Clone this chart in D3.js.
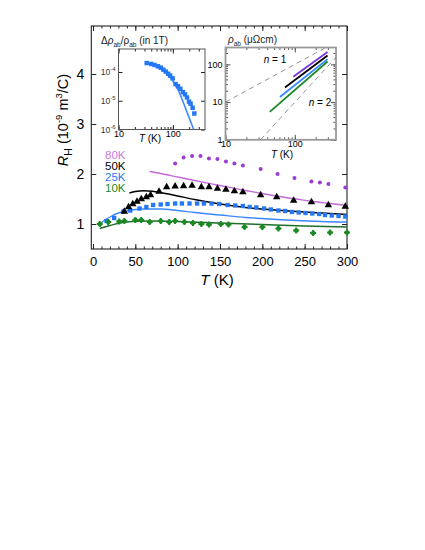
<!DOCTYPE html>
<html>
<head>
<meta charset="utf-8">
<script src="https://cdn.jsdelivr.net/npm/d3@7"></script>
<style>
  body { margin: 0; background: #fff; }
  text { font-family: "Liberation Sans", Arial, sans-serif; }
</style>
</head>
<body>
<div id="plot"></div>
<script>
// Main panel: Hall coefficient vs temperature
const xTicks = [0, 50, 100, 150, 200, 250, 300];
const yTicks = [1, 2, 3, 4];

const tPurple = [97, 107, 117, 127, 137, 147, 157, 167, 177, 198, 218, 238, 258, 268, 278, 298];
const rhPurple = [2.21, 2.33, 2.36, 2.36, 2.31, 2.30, 2.25, 2.21, 2.17, 2.10, 2.00, 1.92, 1.85, 1.83, 1.80, 1.73];

const tBlack = [37, 42, 47, 52, 57, 63, 68, 78, 87, 97, 107, 117, 128, 137, 147, 157, 167, 177, 198, 217, 237, 258, 278, 298];
const rhBlack = [1.25, 1.34, 1.40, 1.45, 1.50, 1.54, 1.58, 1.65, 1.74, 1.755, 1.76, 1.77, 1.74, 1.74, 1.71, 1.69, 1.66, 1.64, 1.58, 1.54, 1.47, 1.44, 1.38, 1.35];

const tBlue = [16, 25, 36, 44, 55, 63, 71, 80, 88, 97, 105, 114, 123, 131, 140, 149, 159, 168, 177, 185, 193, 202, 210, 219, 227, 235, 243, 251, 259, 267, 274, 282, 290, 298];
const rhBlue = [1.06, 1.12, 1.25, 1.27, 1.31, 1.34, 1.38, 1.39, 1.40, 1.41, 1.41, 1.41, 1.41, 1.41, 1.41, 1.40, 1.38, 1.37, 1.36, 1.34, 1.33, 1.31, 1.29, 1.27, 1.26, 1.24, 1.23, 1.22, 1.21, 1.20, 1.18, 1.17, 1.16, 1.15];

const tGreen = [8, 18, 31, 37, 50, 57, 67, 80, 90, 97, 108, 118, 128, 137, 151, 160, 179, 200, 219, 240, 260, 280, 300];
const rhGreen = [1.0, 1.04, 1.05, 1.06, 1.08, 1.08, 1.04, 1.06, 1.04, 1.06, 1.04, 1.02, 1.0, 0.99, 1.0, 0.99, 0.94, 0.94, 0.91, 0.87, 0.82, 0.83, 0.83];

// model curves
const tFitPurple = [67, 80, 100, 120, 150, 180, 200, 220, 240, 260, 280, 300];
const rhFitPurple = [2.05, 2.01, 1.94, 1.87, 1.77, 1.67, 1.61, 1.55, 1.50, 1.45, 1.41, 1.37];
const tFitBlack = [43, 50, 60, 70, 80, 100, 120, 150, 180, 200, 240, 270, 300];
const rhFitBlack = [1.62, 1.65, 1.665, 1.655, 1.63, 1.56, 1.49, 1.40, 1.33, 1.30, 1.25, 1.22, 1.19];
const tFitBlue = [8, 15, 20, 30, 40, 50, 60, 80, 100, 120, 150, 180, 200, 240, 270, 300];
const rhFitBlue = [1.0, 1.09, 1.14, 1.22, 1.26, 1.29, 1.30, 1.30, 1.27, 1.23, 1.18, 1.13, 1.11, 1.07, 1.05, 1.04];
const tFitGreen = [8, 20, 35, 50, 70, 100, 150, 200, 250, 300];
const rhFitGreen = [0.91, 0.97, 1.03, 1.055, 1.06, 1.05, 1.02, 0.99, 0.96, 0.94];

const legendLabels = ["80K", "50K", "25K", "10K"];

// Inset 1: magnetoresistance
const tMR = [33, 40, 46, 53, 60, 67, 74, 82, 89, 99, 112, 124, 137, 153, 167, 182, 198, 212, 231, 248];
const mrData = [2.05e-4, 1.9e-4, 1.75e-4, 1.58e-4, 1.42e-4, 1.2e-4, 1.03e-4, 8.7e-5, 7.5e-5, 6.0e-5, 3.8e-5, 3.2e-5, 2.6e-5, 2.0e-5, 1.66e-5, 1.3e-5, 9.3e-6, 7.9e-6, 5.7e-6, 3.6e-6];
const tMRFit = [31, 45, 55, 73, 97, 129, 171, 212, 241];
const mrFit = [2.0e-4, 1.65e-4, 1.38e-4, 9.8e-5, 5.4e-5, 2.1e-5, 5.5e-6, 1.9e-6, 1.0e-6];
const mrYTicks = [1e-4, 1e-5, 1e-6];
const mrYLabels = ["-4", "-5", "-6"];

// Inset 2: resistivity, straight power laws (start, end)
const tRho = [[95, 297], [72, 297], [61, 297], [43.5, 297]];
const rhoVals = [[47, 213], [24.5, 172], [13.7, 138], [5.5, 119]];
const nOneLine = [[10, 10], [280, 280]];
const nTwoLine = [[32, 1], [393, 154]];
const rhoYTicks = [1, 10, 100];
const logXTicks = [10, 100];

const colors = {purple: "#9a3bd6", purpleFit: "#c46ad8", purpleLeg: "#c77ae0",
  black: "#000", blue: "#2478f5", blueFit: "#3a88ff", green: "#1b8a24", greenFit: "#1f6e2a",
  rhoPurple: "#7a35e0", rhoBlue: "#3388ff"};

const width = 425;
const height = 550;
const frame = {left: 91.3, right: 347, top: 26, bottom: 249};
const font = "'Liberation Sans', Arial, sans-serif";

const svg = d3.select("#plot")
  .append("svg")
  .attr("width", width)
  .attr("height", height);

const x = d3.scaleLinear().domain([-2, 300]).range([frame.left, frame.right]);
const y = d3.scaleLinear().domain([0.5, 4.96]).range([frame.bottom, frame.top]);

function styleAxis(g, size) {
  g.select(".domain").remove();
  g.attr("font-family", font).attr("font-size", size);
  g.selectAll("line").attr("stroke", "#222");
}

// bottom axis, major and minor ticks pointing inward
svg.append("g")
  .attr("transform", `translate(0,${frame.bottom})`)
  .call(d3.axisBottom(x).tickValues(xTicks).tickSize(-5).tickPadding(8))
  .call(g => styleAxis(g, 13));
svg.append("g")
  .attr("transform", `translate(0,${frame.bottom})`)
  .call(d3.axisBottom(x).tickValues(d3.range(0, 301, 10)).tickSize(-2.5).tickFormat(""))
  .call(g => styleAxis(g, 13));
svg.append("g")
  .attr("transform", `translate(0,${frame.top})`)
  .call(d3.axisTop(x).tickValues(xTicks).tickSize(-5).tickFormat(""))
  .call(g => styleAxis(g, 13));
svg.append("g")
  .attr("transform", `translate(0,${frame.top})`)
  .call(d3.axisTop(x).tickValues(d3.range(0, 301, 10)).tickSize(-2.5).tickFormat(""))
  .call(g => styleAxis(g, 13));
svg.append("g")
  .attr("transform", `translate(${frame.left},0)`)
  .call(d3.axisLeft(y).tickValues(yTicks).tickSize(-5).tickPadding(7).tickFormat(d3.format("d")))
  .call(g => styleAxis(g, 14));
svg.append("g")
  .attr("transform", `translate(${frame.right},0)`)
  .call(d3.axisRight(y).tickValues(yTicks).tickSize(-5).tickFormat(""))
  .call(g => styleAxis(g, 13));

svg.append("rect")
  .attr("x", frame.left).attr("y", frame.top)
  .attr("width", frame.right - frame.left).attr("height", frame.bottom - frame.top)
  .attr("fill", "none").attr("stroke", "#222").attr("stroke-width", 1.1);

// axis titles
svg.append("text")
  .attr("x", 217).attr("y", 285)
  .attr("text-anchor", "middle").attr("font-size", 15)
  .html('<tspan font-style="italic">T</tspan> (K)');

const yTitle = svg.append("text")
  .attr("transform", "translate(68,120) rotate(-90)")
  .attr("text-anchor", "middle").attr("font-size", 14.5);
yTitle.append("tspan").attr("font-style", "italic").text("R");
yTitle.append("tspan").attr("font-size", 10.5).attr("dy", 4).text("H");
yTitle.append("tspan").attr("dy", -4).text(" (10");
yTitle.append("tspan").attr("font-size", 9.5).attr("dy", -6).text("-9");
yTitle.append("tspan").attr("dy", 6).text(" m");
yTitle.append("tspan").attr("font-size", 9.5).attr("dy", -6).text("3");
yTitle.append("tspan").attr("dy", 6).text("/C)");

// model curves
const line = d3.line().x(d => x(d[0])).y(d => y(d[1])).curve(d3.curveMonotoneX);
const fits = [
  [tFitGreen, rhFitGreen, colors.greenFit],
  [tFitBlue, rhFitBlue, colors.blueFit],
  [tFitBlack, rhFitBlack, colors.black],
  [tFitPurple, rhFitPurple, colors.purpleFit]
];
fits.forEach(([ts, vs, c]) => {
  svg.append("path")
    .datum(ts.map((t, i) => [t, vs[i]]))
    .attr("d", line)
    .attr("fill", "none").attr("stroke", c).attr("stroke-width", 1.4);
});

// data points
svg.append("g").selectAll("path")
  .data(tBlue.map((t, i) => [t, rhBlue[i]]))
  .join("path")
  .attr("d", d3.symbol(d3.symbolSquare, 19))
  .attr("transform", d => `translate(${x(d[0])},${y(d[1])})`)
  .attr("fill", colors.blue);

const greenG = svg.append("g");
const greenPts = tGreen.map((t, i) => [t, rhGreen[i]]);
greenG.selectAll("circle")
  .data(greenPts)
  .join("circle")
  .attr("cx", d => x(d[0])).attr("cy", d => y(d[1]))
  .attr("r", 2.3)
  .attr("fill", colors.green);
greenG.selectAll("path")
  .data(greenPts)
  .join("path")
  .attr("d", d3.symbol(d3.symbolCross, 20))
  .attr("transform", d => `translate(${x(d[0])},${y(d[1])})`)
  .attr("fill", colors.green);

svg.append("g").selectAll("path")
  .data(tBlack.map((t, i) => [t, rhBlack[i]]))
  .join("path")
  .attr("d", d3.symbol(d3.symbolTriangle, 24))
  .attr("transform", d => `translate(${x(d[0])},${y(d[1])})`)
  .attr("fill", colors.black);

svg.append("g").selectAll("circle")
  .data(tPurple.map((t, i) => [t, rhPurple[i]]))
  .join("circle")
  .attr("cx", d => x(d[0])).attr("cy", d => y(d[1]))
  .attr("r", 2)
  .attr("fill", colors.purple);

// legend
const legendColors = [colors.purpleLeg, colors.black, colors.blue, colors.green];
svg.append("g").selectAll("text")
  .data(legendLabels)
  .join("text")
  .attr("x", 105)
  .attr("y", (d, i) => 158.5 + i * 11.3)
  .attr("font-size", 11.5)
  .attr("fill", (d, i) => legendColors[i])
  .text(d => d);

// ---------- inset 1 ----------
const in1 = {left: 118.5, right: 205, top: 49, bottom: 129.5};
const ix1 = d3.scaleLog().domain([10, 390]).range([in1.left, in1.right]);
const iy1 = d3.scaleLog().domain([1e-6, 6.3e-4]).range([in1.bottom, in1.top]);

function logMinor(lo, hi) {
  const out = [];
  for (let d = lo; d < hi; d *= 10) for (let k = 1; k < 10; k++) if (d * k <= hi) out.push(d * k);
  return out;
}

const in1g = svg.append("g");
in1g.append("g").attr("transform", `translate(0,${in1.bottom})`)
  .call(d3.axisBottom(ix1).tickValues(logMinor(10, 390)).tickSize(-2.5).tickFormat(""))
  .call(g => styleAxis(g, 8));
in1g.append("g").attr("transform", `translate(0,${in1.bottom})`)
  .call(d3.axisBottom(ix1).tickValues(logXTicks).tickSize(-4.5).tickPadding(1).tickFormat(d3.format("d")))
  .call(g => styleAxis(g, 9));
in1g.append("g").attr("transform", `translate(0,${in1.top})`)
  .call(d3.axisTop(ix1).tickValues(logMinor(10, 390)).tickSize(-2.5).tickFormat(""))
  .call(g => styleAxis(g, 8));
in1g.append("g").attr("transform", `translate(0,${in1.top})`)
  .call(d3.axisTop(ix1).tickValues(logXTicks).tickSize(-4.5).tickFormat(""))
  .call(g => styleAxis(g, 8));
in1g.append("g").attr("transform", `translate(${in1.left},0)`)
  .call(d3.axisLeft(iy1).tickValues(mrYTicks).tickSize(-4).tickFormat(""))
  .call(g => styleAxis(g, 8));
in1g.append("g").attr("transform", `translate(${in1.right},0)`)
  .call(d3.axisRight(iy1).tickValues(mrYTicks).tickSize(-4).tickFormat(""))
  .call(g => styleAxis(g, 8));

mrYTicks.forEach((v, i) => {
  const t = in1g.append("text")
    .attr("x", in1.left - 3).attr("y", iy1(v) + 3)
    .attr("text-anchor", "end").attr("font-size", 8.5).attr("fill", "#333");
  t.append("tspan").text("10");
  t.append("tspan").attr("font-size", 6).attr("dy", -4).text(mrYLabels[i]);
});

in1g.append("rect")
  .attr("x", in1.left).attr("y", in1.top)
  .attr("width", in1.right - in1.left).attr("height", in1.bottom - in1.top)
  .attr("fill", "none").attr("stroke", "#555").attr("stroke-width", 1);

const mrLine = d3.line().x(d => ix1(d[0])).y(d => iy1(d[1])).curve(d3.curveMonotoneX);
in1g.append("path")
  .datum(tMRFit.map((t, i) => [t, mrFit[i]]))
  .attr("d", mrLine)
  .attr("fill", "none").attr("stroke", colors.blueFit).attr("stroke-width", 1.6);

in1g.append("g").selectAll("path")
  .data(tMR.map((t, i) => [t, mrData[i]]))
  .join("path")
  .attr("d", d3.symbol(d3.symbolSquare, 20))
  .attr("transform", d => `translate(${ix1(d[0])},${iy1(d[1])})`)
  .attr("fill", colors.blue);

const mrTitle = in1g.append("text")
  .attr("x", 101).attr("y", 44).attr("font-size", 10).attr("fill", "#222");
mrTitle.append("tspan").text("\u0394");
mrTitle.append("tspan").attr("font-style", "italic").text("\u03c1");
mrTitle.append("tspan").attr("font-size", 6.5).attr("dy", 3).text("ab");
mrTitle.append("tspan").attr("dy", -3).text("/\u03c1");
mrTitle.append("tspan").attr("font-size", 6.5).attr("dy", 3).text("ab");
mrTitle.append("tspan").attr("dy", -3).text(" (in 1T)");

in1g.append("text")
  .attr("x", 150).attr("y", 142).attr("text-anchor", "middle").attr("font-size", 10)
  .html('<tspan font-style="italic">T</tspan> (K)');

// ---------- inset 2 ----------
const in2 = {left: 225.5, right: 336, top: 47.5, bottom: 139.8};
const ix2 = d3.scaleLog().domain([10, 393]).range([in2.left, in2.right]);
const iy2 = d3.scaleLog().domain([1, 280]).range([in2.bottom, in2.top]);

const in2g = svg.append("g");
const grayAxis = g => { styleAxis(g, 9); g.selectAll("line").attr("stroke", "#555"); };
in2g.append("g").attr("transform", `translate(0,${in2.bottom})`)
  .call(d3.axisBottom(ix2).tickValues(logMinor(10, 393)).tickSize(-2.5).tickFormat(""))
  .call(grayAxis);
in2g.append("g").attr("transform", `translate(0,${in2.bottom})`)
  .call(d3.axisBottom(ix2).tickValues(logXTicks).tickSize(-5).tickPadding(1).tickFormat(d3.format("d")))
  .call(grayAxis);
in2g.append("g").attr("transform", `translate(0,${in2.top})`)
  .call(d3.axisTop(ix2).tickValues(logMinor(10, 393)).tickSize(-2.5).tickFormat(""))
  .call(grayAxis);
in2g.append("g").attr("transform", `translate(0,${in2.top})`)
  .call(d3.axisTop(ix2).tickValues(logXTicks).tickSize(-5).tickFormat(""))
  .call(grayAxis);
in2g.append("g").attr("transform", `translate(${in2.left},0)`)
  .call(d3.axisLeft(iy2).tickValues(logMinor(1, 280)).tickSize(-2.5).tickFormat(""))
  .call(grayAxis);
in2g.append("g").attr("transform", `translate(${in2.left},0)`)
  .call(d3.axisLeft(iy2).tickValues(rhoYTicks).tickSize(-5).tickPadding(3).tickFormat(d3.format("d")))
  .call(grayAxis);
in2g.append("g").attr("transform", `translate(${in2.right},0)`)
  .call(d3.axisRight(iy2).tickValues(logMinor(1, 280)).tickSize(-2.5).tickFormat(""))
  .call(grayAxis);
in2g.append("g").attr("transform", `translate(${in2.right},0)`)
  .call(d3.axisRight(iy2).tickValues(rhoYTicks).tickSize(-5).tickFormat(""))
  .call(grayAxis);

in2g.append("rect")
  .attr("x", in2.left).attr("y", in2.top)
  .attr("width", in2.right - in2.left).attr("height", in2.bottom - in2.top)
  .attr("fill", "none").attr("stroke", "#999").attr("stroke-width", 1.8);

const rhoLine = d3.line().x(d => ix2(d[0])).y(d => iy2(d[1]));
[nOneLine, nTwoLine].forEach(l => {
  in2g.append("path")
    .datum(l)
    .attr("d", rhoLine)
    .attr("fill", "none").attr("stroke", "#777")
    .attr("stroke-width", 0.8).attr("stroke-dasharray", "5,4");
});

const rhoColors = [colors.rhoPurple, colors.black, colors.rhoBlue, colors.green];
tRho.forEach((ts, i) => {
  in2g.append("path")
    .datum(ts.map((t, j) => [t, rhoVals[i][j]]))
    .attr("d", rhoLine)
    .attr("fill", "none").attr("stroke", rhoColors[i]).attr("stroke-width", 1.8);
});

const rhoTitle = in2g.append("text")
  .attr("x", 228).attr("y", 43).attr("font-size", 10).attr("fill", "#222");
rhoTitle.append("tspan").attr("font-style", "italic").text("\u03c1");
rhoTitle.append("tspan").attr("font-size", 6.5).attr("dy", 3).text("ab");
rhoTitle.append("tspan").attr("dy", -3).text(" (\u03bc\u03a9cm)");

in2g.append("text")
  .attr("x", 275).attr("y", 63).attr("text-anchor", "middle").attr("font-size", 10)
  .html('<tspan font-style="italic">n</tspan> = 1');
in2g.append("text")
  .attr("x", 320).attr("y", 106).attr("text-anchor", "middle").attr("font-size", 10)
  .html('<tspan font-style="italic">n</tspan> = 2');
in2g.append("text")
  .attr("x", 282).attr("y", 158).attr("text-anchor", "middle").attr("font-size", 10)
  .html('<tspan font-style="italic">T</tspan> (K)');
</script>
</body>
</html>
